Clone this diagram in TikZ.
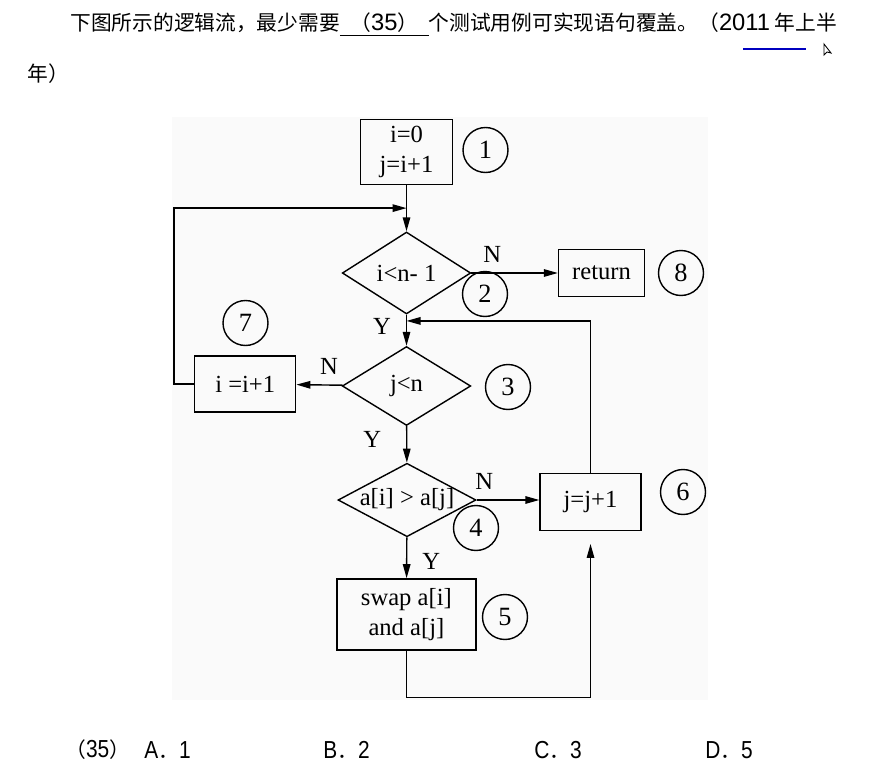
\documentclass[tikz,border=0pt]{standalone}
\usepackage{fontspec}
\usepackage{tikz}
\usetikzlibrary{shapes.geometric,arrows.meta,calc}
\newfontfamily\timesfont{Liberation Serif}
\newfontfamily\cjk{Noto Sans CJK SC}
\newfontfamily\latinsans{Liberation Sans}
\newfontfamily\narrowsans[FakeStretch=0.85]{Liberation Sans}
\newcommand\hdigits[1]{{\latinsans\fontsize{13.5}{14}\selectfont #1}}
\newcommand\ansfont[1]{{\narrowsans\fontsize{14}{15}\selectfont #1}}
\tikzset{
  box/.style={
    draw,
    line width = 0.8pt,
    inner sep = 0.055cm,
    align = center,
    font = \timesfont\fontsize{14}{17}\selectfont
  },
  decision/.style={
    draw,
    shape = diamond,
    line width = 0.8pt,
    inner sep = 0pt,
    font = \timesfont\fontsize{14}{17}\selectfont
  },
  tag/.style={
    draw,
    shape = circle,
    line width = 0.8pt,
    minimum size = 0.9cm,
    inner sep = 0pt,
    font = \timesfont\fontsize{15}{17}\selectfont
  },
  lbl/.style={
    inner sep = 0pt,
    font = \timesfont\fontsize{14}{17}\selectfont
  },
  flow/.style={
    line width = 0.8pt,
    -{Triangle[length=2.8mm,width=1.5mm]}
  },
  cjktext/.style={
    inner sep = 0pt,
    font = \cjk\fontsize{11.8}{14}\selectfont
  }
}

\begin{document}
\begin{tikzpicture}[x=0.02cm, y=-0.02cm]
  \useasboundingbox (0,0) rectangle (878,777);
  \fill[gray!4] (172,117) rectangle (708,700);

  % question text
  \node[cjktext, anchor=base west] (qa) at (70,31) {下图所示的逻辑流，最少需要\underline{\hspace{6pt}（\hdigits{35}）\hspace{6pt}}个测试用例可实现语句覆盖。（\hdigits{2011} 年上半};
  \node[cjktext, anchor=base west] (qb) at (27,82) {年）};
  \draw[blue!75!black, line width=1.6pt] (743,49) -- (806,49);
  \draw[line width=0.5pt, fill=white] (824,44) -- (824,55) -- (827,52) -- (831,53) -- cycle;

  % flow chart
  \node[box, minimum width=1.85cm, minimum height=1.29cm] (init) at (406.5,152) {i=0\\j=i+1};
  \node[tag] (t1) at (485.5,150) {1};
  \node[decision, aspect=1.57, minimum width=2.57cm, minimum height=1.64cm] (outer) at (406.5,273) {i<n- 1};
  \node[tag] (t2) at (485,294) {2};
  \node[box, minimum width=1.72cm, minimum height=0.95cm] (ret) at (601.5,273) {return};
  \node[tag] (t8) at (681,273) {8};
  \node[decision, aspect=1.63, minimum width=2.57cm, minimum height=1.58cm] (inner) at (406.5,386) {j<n};
  \node[tag] (t3) at (508,387) {3};
  \node[box, minimum width=2.02cm, minimum height=1.12cm] (inc) at (245.2,384) {i =i+1};
  \node[tag] (t7) at (245.5,323) {7};
  \node[decision, aspect=1.88, minimum width=2.76cm, minimum height=1.47cm] (cmp) at (407,500) {a[i] > a[j]};
  \node[tag] (t4) at (476,528) {4};
  \node[box, minimum width=2.02cm, minimum height=1.13cm] (next) at (590.5,502) {j=j+1};
  \node[tag] (t6) at (683,492) {6};
  \node[box, minimum width=2.78cm, minimum height=1.42cm] (swap) at (406.4,614.4) {swap a[i]\\and a[j]};
  \node[tag] (t5) at (505,617) {5};

  \coordinate (join1) at ($(init.south)!0.5!(outer.north)$);
  \coordinate (join2) at ($(outer.south)!0.2!(inner.north)$);

  \draw[flow] (init) -- (outer);
  \draw[flow] (outer) -- (ret) node[lbl, pos=0.24, above=0.2cm] {N};
  \draw[flow] (outer) -- (inner) node[lbl, pos=0.37, left=0.3cm] {Y};
  \draw[flow] (inner) -- (inc) node[lbl, pos=0.3, above=0.2cm] {N};
  \draw[flow] (inc.west) -- ++(-20,0) |- (join1);
  \draw[flow] (inner) -- (cmp) node[lbl, pos=0.37, left=0.5cm] {Y};
  \draw[flow] (cmp.east) -- (cmp.east -| next.west) node[lbl, pos=0.12, above=0.2cm] {N};
  \draw[flow] (next.north) |- (join2);
  \draw[flow] (cmp) -- (swap) node[lbl, pos=0.6, right=0.3cm] {Y};
  \draw[flow, shorten >=0.26cm] (swap.south) -- ++(0,47) -| (next.south);

  % answers
  \node[cjktext, anchor=west] (a0) at (65,750) {（\ansfont{35}）};
  \node[cjktext, anchor=west] (a1) at (144,750) {\ansfont{A}．\ansfont{1}};
  \node[cjktext, anchor=west] (a2) at (323,750) {\ansfont{B}．\ansfont{2}};
  \node[cjktext, anchor=west] (a3) at (534,750) {\ansfont{C}．\ansfont{3}};
  \node[cjktext, anchor=west] (a4) at (705,750) {\ansfont{D}．\ansfont{5}};
\end{tikzpicture}
\end{document}
